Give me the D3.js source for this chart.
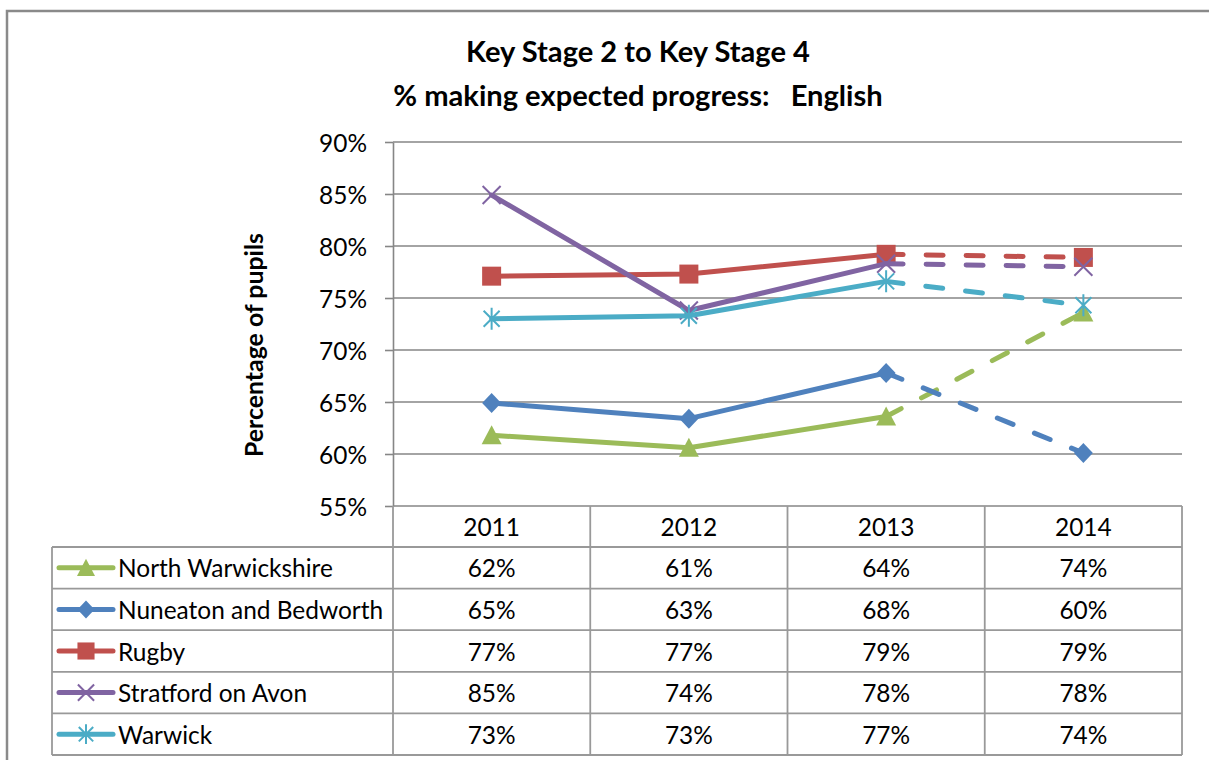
<!DOCTYPE html>
<html><head><meta charset="utf-8">
<script src="https://cdn.jsdelivr.net/npm/d3@7"></script>
<style>body{margin:0;background:#fff}</style>
</head><body><svg id="c" width="1209" height="760"></svg>
<script>
// ---------- data ----------
const years = ["2011", "2012", "2013", "2014"];
const seriesNames = ["North Warwickshire", "Nuneaton and Bedworth", "Rugby", "Stratford on Avon", "Warwick"];
const northWarwickshire = [61.8, 60.6, 63.6, 73.6];
const nuneatonBedworth = [64.9, 63.4, 67.8, 60.1];
const rugby = [77.1, 77.3, 79.2, 78.9];
const stratfordOnAvon = [84.9, 73.8, 78.3, 78.0];
const warwick = [73.0, 73.3, 76.6, 74.3];
const yTicks = [55, 60, 65, 70, 75, 80, 85, 90];
const titleLines = ["Key Stage 2 to Key Stage 4", "% making expected progress:   English"];
const yTitle = "Percentage of pupils";
const colors = ["#9BBB59", "#4F81BD", "#C0504D", "#8064A2", "#4BACC6"];
const markerTypes = ["triangle", "diamond", "square", "x", "star"];

const seriesValues = [northWarwickshire, nuneatonBedworth, rugby, stratfordOnAvon, warwick];
const series = seriesNames.map((n, i) => ({name: n, values: seriesValues[i], color: colors[i], marker: markerTypes[i]}));

// ---------- setup ----------
const F = "Lato, 'Open Sans', sans-serif";
const svg = d3.select("#c");
const GRID = "#868686", TBL = "#999999";

function fitSize(text, weight, target) {
  const t = svg.append("text").attr("font-family", F).attr("font-weight", weight)
    .attr("font-size", 100).style("white-space", "pre").text(text);
  const w = t.node().getComputedTextLength();
  t.remove();
  return 100 * target / w;
}
const bodySize = fitSize("North Warwickshire", "normal", 215);
const titleSize = fitSize(titleLines[0], "bold", 344);
const axisTitleSize = fitSize(yTitle, "bold", 224);

// outer border
svg.append("rect").attr("x", 7).attr("y", 11).attr("width", 1230).attr("height", 780)
  .attr("fill", "none").attr("stroke", "#8a8a8a").attr("stroke-width", 2.5);

// scales
const plotL = 393, plotR = 1182, plotT = 142, plotB = 506;
const x = d3.scaleBand().domain(years).range([plotL, plotR]).paddingInner(0).paddingOuter(0);
const y = d3.scaleLinear().domain([55, 90]).range([plotB, plotT]);
const cx = d => x(d) + x.bandwidth() / 2;

// title
svg.append("g").selectAll("text").data(titleLines).join("text")
  .attr("x", 638).attr("y", (d, i) => 62 + i * 44)
  .attr("text-anchor", "middle").attr("font-family", F).attr("font-weight", "bold")
  .attr("font-size", titleSize).style("white-space", "pre").attr("fill", "#000").text(d => d);

// gridlines
svg.append("g").selectAll("line").data(yTicks).join("line")
  .attr("x1", plotL).attr("x2", plotR).attr("y1", d => y(d)).attr("y2", d => y(d))
  .attr("stroke", GRID).attr("stroke-width", 1.6);

// y axis
const yAxis = svg.append("g").attr("transform", `translate(${plotL},0)`)
  .call(d3.axisLeft(y).tickValues(yTicks).tickSize(8).tickSizeOuter(0).tickPadding(18)
    .tickFormat(d => d + "%"));
yAxis.select(".domain").attr("stroke", GRID).attr("stroke-width", 1.6);
yAxis.selectAll(".tick line").attr("stroke", GRID).attr("stroke-width", 1.6);
yAxis.selectAll(".tick text").attr("font-family", F).attr("font-size", bodySize).attr("fill", "#000")
  .attr("dy", null).attr("dominant-baseline", "central");

// y title
svg.append("text").attr("transform", "translate(263,345) rotate(-90)")
  .attr("text-anchor", "middle").attr("font-family", F).attr("font-weight", "bold")
  .attr("font-size", axisTitleSize).attr("fill", "#000").text(yTitle);

// ---------- table ----------
const tblL = 52, headT = plotB, headB = 547, tblB = 755;
const rowH = (tblB - headB) / series.length;
const tbl = svg.append("g");
// horizontal lines
const hLines = d3.range(series.length + 1).map(i => headB + i * rowH);
tbl.selectAll("line.h").data(hLines).join("line").attr("class", "h")
  .attr("x1", tblL).attr("x2", plotR).attr("y1", d => d).attr("y2", d => d)
  .attr("stroke", TBL).attr("stroke-width", 1.8);
// vertical lines
const vLines = [plotL].concat(years.map(d => x(d) + x.bandwidth()));
tbl.selectAll("line.v").data(vLines).join("line").attr("class", "v")
  .attr("x1", d => d).attr("x2", d => d).attr("y1", headT).attr("y2", tblB)
  .attr("stroke", TBL).attr("stroke-width", 1.8);
tbl.append("line").attr("x1", tblL).attr("x2", tblL).attr("y1", headB).attr("y2", tblB)
  .attr("stroke", TBL).attr("stroke-width", 1.8);
// header
tbl.selectAll("text.yr").data(years).join("text").attr("class", "yr")
  .attr("x", d => cx(d)).attr("y", (headT + headB) / 2).attr("dominant-baseline", "central")
  .attr("text-anchor", "middle").attr("font-family", F).attr("font-size", bodySize).attr("fill", "#000")
  .text(d => d);

// marker paths
function markerPath(type, s) {
  switch (type) {
    case "triangle": return `M0,${-10*s}L${10*s},${9*s}L${-10*s},${9*s}Z`;
    case "diamond": return `M0,${-10*s}L${9.5*s},0L0,${10*s}L${-9.5*s},0Z`;
    case "square": return `M${-9.5*s},${-9.5*s}h${19*s}v${19*s}h${-19*s}Z`;
    case "x": return `M${-9*s},${-9*s}L${9*s},${9*s}M${-9*s},${9*s}L${9*s},${-9*s}`;
    case "star": return `M${-8*s},${-8*s}L${8*s},${8*s}M${-8*s},${8*s}L${8*s},${-8*s}M0,${-11*s}L0,${11*s}`;
  }
}
function drawMarker(g, type, color, s) {
  const open = type === "x" || type === "star";
  g.append("path").attr("d", markerPath(type, s))
    .attr("fill", open ? "none" : color).attr("stroke", open ? color : "none")
    .attr("stroke-width", open ? 2 : 0).attr("stroke-linecap", "butt");
}

// rows
series.forEach((s, i) => {
  const mid = headB + i * rowH + rowH / 2;
  const g = tbl.append("g");
  g.append("line").attr("x1", 59).attr("x2", 113).attr("y1", mid).attr("y2", mid)
    .attr("stroke", s.color).attr("stroke-width", 5).attr("stroke-linecap", "round");
  drawMarker(g.append("g").attr("transform", `translate(86,${mid})`), s.marker, s.color, 0.9);
  g.append("text").attr("x", 118).attr("y", mid).attr("dominant-baseline", "central")
    .attr("font-family", F).attr("font-size", bodySize).attr("fill", "#000").text(s.name);
  g.selectAll("text.v").data(s.values).join("text").attr("class", "v")
    .attr("x", (d, j) => cx(years[j])).attr("y", mid).attr("dominant-baseline", "central")
    .attr("text-anchor", "middle").attr("font-family", F).attr("font-size", bodySize).attr("fill", "#000")
    .text(d => Math.round(d) + "%");
});

// ---------- lines ----------
const line = d3.line().x(d => cx(d.year)).y(d => y(d.v));
series.forEach(s => {
  const pts = s.values.map((v, j) => ({year: years[j], v}));
  const g = svg.append("g");
  g.append("path").attr("d", line(pts.slice(0, 3))).attr("fill", "none")
    .attr("stroke", s.color).attr("stroke-width", 5).attr("stroke-linejoin", "round").attr("stroke-linecap", "round");
  g.append("path").attr("d", line(pts.slice(2, 4))).attr("fill", "none")
    .attr("stroke", s.color).attr("stroke-width", 5).attr("stroke-linecap", "round")
    .attr("stroke-dasharray", "17,23");
  pts.forEach(p => drawMarker(g.append("g").attr("transform", `translate(${cx(p.year)},${y(p.v)})`), s.marker, s.color, 1));
});
</script>
</body></html>
